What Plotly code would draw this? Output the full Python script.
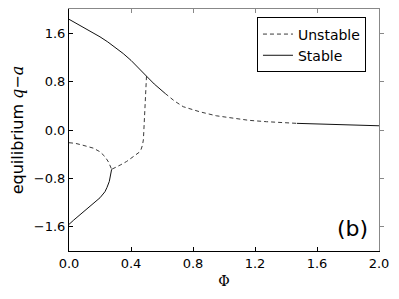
import plotly.graph_objects as go

# Upper branch, stable (solid)
upper_stable_phi = [0.0, 0.05, 0.1, 0.15, 0.2, 0.25, 0.3, 0.35, 0.4, 0.45, 0.5, 0.55, 0.6, 0.62]
upper_stable_q = [1.83, 1.761, 1.691, 1.618, 1.540, 1.456, 1.364, 1.263, 1.151, 1.028, 0.89, 0.76, 0.645, 0.605]

# Upper branch, unstable (dashed)
upper_unstable_phi = [0.62, 0.68, 0.737, 0.8, 0.845, 0.95, 1.06, 1.16, 1.275, 1.38, 1.47]
upper_unstable_q = [0.605, 0.48, 0.385, 0.33, 0.30, 0.235, 0.19, 0.16, 0.137, 0.122, 0.11]

# Right tail, stable (solid)
tail_stable_phi = [1.47, 1.6, 1.75, 1.9, 2.0]
tail_stable_q = [0.11, 0.098, 0.087, 0.076, 0.07]

# Fold branch, unstable (dashed) from upper curve down to cusp
fold_unstable_phi = [0.50, 0.496, 0.49, 0.485, 0.48, 0.474, 0.465, 0.452, 0.42, 0.372, 0.33, 0.3, 0.275]
fold_unstable_q = [0.89, 0.65, 0.3, 0.0, -0.16, -0.25, -0.32, -0.37, -0.43, -0.52, -0.58, -0.62, -0.65]

# Left branch, unstable (dashed) from phi=0 to cusp
left_unstable_phi = [0.0, 0.04, 0.08, 0.12, 0.157, 0.2, 0.232, 0.255, 0.267, 0.275]
left_unstable_q = [-0.21, -0.22, -0.245, -0.27, -0.30, -0.36, -0.44, -0.53, -0.60, -0.65]

# Lower branch, stable (solid) from cusp to phi=0
lower_stable_phi = [0.275, 0.27, 0.26, 0.245, 0.232, 0.2, 0.157, 0.1, 0.071, 0.03, 0.0]
lower_stable_q = [-0.65, -0.72, -0.85, -0.95, -1.02, -1.12, -1.21, -1.33, -1.40, -1.49, -1.56]

x_ticks = [0.0, 0.4, 0.8, 1.2, 1.6, 2.0]
x_ticklabels = ["0.0", "0.4", "0.8", "1.2", "1.6", "2.0"]
y_ticks = [-1.6, -0.8, 0.0, 0.8, 1.6]
y_ticklabels = ["\u22121.6", "\u22120.8", "0.0", "0.8", "1.6"]

dash_style = dict(color="#3a3a3a", width=1, dash="4px,3px")
solid_style = dict(color="#111111", width=1)

fig = go.Figure()
fig.add_trace(go.Scatter(x=upper_unstable_phi, y=upper_unstable_q, mode="lines",
                         line=dash_style, name="Unstable", legendrank=1))
fig.add_trace(go.Scatter(x=fold_unstable_phi, y=fold_unstable_q, mode="lines",
                         line=dash_style, showlegend=False))
fig.add_trace(go.Scatter(x=left_unstable_phi, y=left_unstable_q, mode="lines",
                         line=dash_style, showlegend=False))
fig.add_trace(go.Scatter(x=upper_stable_phi, y=upper_stable_q, mode="lines",
                         line=solid_style, name="Stable", legendrank=2))
fig.add_trace(go.Scatter(x=tail_stable_phi, y=tail_stable_q, mode="lines",
                         line=solid_style, showlegend=False))
fig.add_trace(go.Scatter(x=lower_stable_phi, y=lower_stable_q, mode="lines",
                         line=solid_style, showlegend=False))
# dummy trace for the mirrored top/right axes
fig.add_trace(go.Scatter(x=[None], y=[None], xaxis="x2", yaxis="y2", showlegend=False,
                         hoverinfo="skip"))

tick_font = dict(family="DejaVu Sans", size=13, color="black")

fig.update_layout(
    width=399, height=299,
    margin=dict(l=69, r=20, t=9, b=48),
    paper_bgcolor="white", plot_bgcolor="white",
    showlegend=True,
    legend=dict(x=0.958, y=0.965, xanchor="right", yanchor="top",
                bordercolor="black", borderwidth=1, bgcolor="white",
                font=dict(family="DejaVu Sans", size=14, color="black"),
                tracegroupgap=0, itemwidth=30),
    xaxis=dict(range=[0, 2], tickvals=x_ticks, ticktext=x_ticklabels,
               showline=True, linecolor="black", linewidth=1,
               ticks="inside", ticklen=4, tickcolor="black",
               showgrid=False, zeroline=False, tickfont=tick_font,
               title=dict(text="\u03a6", font=dict(family="DejaVu Serif", size=14, color="black"),
                          standoff=6)),
    yaxis=dict(range=[-2, 2], tickvals=y_ticks, ticktext=y_ticklabels,
               showline=True, linecolor="black", linewidth=1,
               ticks="inside", ticklen=4, tickcolor="black",
               showgrid=False, zeroline=False, tickfont=tick_font,
               title=dict(text="equilibrium <span style='font-family:DejaVu Serif'><i>q</i>\u2212<i>a</i></span>",
                          font=dict(family="DejaVu Sans", size=16, color="black"),
                          standoff=6)),
    xaxis2=dict(range=[0, 2], overlaying="x", side="top", tickvals=x_ticks,
                showticklabels=False, showline=True, linecolor="#888888", linewidth=1,
                ticks="inside", ticklen=4, tickcolor="#888888",
                showgrid=False, zeroline=False),
    yaxis2=dict(range=[-2, 2], overlaying="y", side="right", tickvals=y_ticks,
                showticklabels=False, showline=True, linecolor="#888888", linewidth=1,
                ticks="outside", ticklen=4, tickcolor="#888888",
                showgrid=False, zeroline=False),
    annotations=[dict(text="(b)", x=0.913, y=0.095, xref="paper", yref="paper",
                      showarrow=False, xanchor="center", yanchor="middle",
                      font=dict(family="DejaVu Sans", size=22, color="black"))],
)

fig.write_html("out.html", config={"displayModeBar": False},
               post_script="document.body.style.margin='0';document.body.style.overflow='hidden';")
